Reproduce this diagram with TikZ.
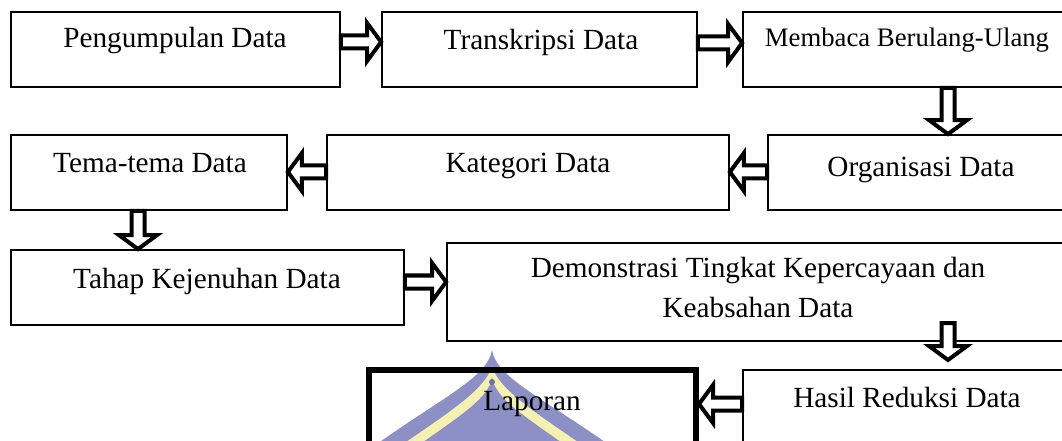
\documentclass[tikz,border=0pt]{standalone}
\usepackage{fontspec}
\setmainfont{Liberation Serif}
\usetikzlibrary{calc,fit}

\definecolor{roofblue}{RGB}{140,144,196}
\definecolor{roofyellow}{RGB}{245,240,180}

\begin{document}
\begin{tikzpicture}[x=0.25mm, y=-0.25mm,
  box/.style={draw, line width=0.45mm, inner sep=0pt},
  txt/.style={anchor=base, inner sep=0pt, font=\fontsize{20.8}{25}\selectfont},
  blk/.style={draw, fill=white, line width=1mm, line join=miter,
    to path={($(\tikztostart)!1.625mm!90:(\tikztotarget)$)
      -- ($(\tikztotarget)!3.5mm!(\tikztostart)!1.625mm!-90:(\tikztostart)$)
      -- ($(\tikztotarget)!3.5mm!(\tikztostart)!4.75mm!-90:(\tikztostart)$)
      -- (\tikztotarget)
      -- ($(\tikztotarget)!3.5mm!(\tikztostart)!4.75mm!90:(\tikztostart)$)
      -- ($(\tikztotarget)!3.5mm!(\tikztostart)!1.625mm!90:(\tikztostart)$)
      -- ($(\tikztostart)!1.625mm!-90:(\tikztotarget)$) -- cycle}}]
\clip (0,0) rectangle (1062,441);

% watermark behind Laporan
\fill[roofblue] (492,350) .. controls (487,380) and (435,400) .. (355,460) -- (630,460) .. controls (549,400) and (497,380) .. (492,350) -- cycle;
\fill[roofyellow] (492,366) .. controls (485,392) and (440,418) .. (380,460) -- (398,460) .. controls (452,420) and (490,400) .. (492,376) .. controls (494,400) and (532,420) .. (586,460) -- (604,460) .. controls (544,418) and (499,392) .. (492,366) -- cycle;
\fill[roofblue!80!black] (492,382) circle (3);

% boxes
\node[box, fit={(11,12) (340,87)}] (b1) {};
\node[box, fit={(382,12) (697,87)}] (b2) {};
\node[box, fit={(743,12) (1080,87)}] (b3) {};
\node[box, fit={(768,135) (1080,210)}] (b4) {};
\node[box, fit={(327,135) (729,210)}] (b5) {};
\node[box, fit={(11,135) (287,210)}] (b6) {};
\node[box, fit={(11,250) (404,325)}] (b7) {};
\node[box, fit={(447,243) (1080,341)}] (b8) {};
\node[box, fit={(743,370) (1080,470)}] (b9) {};
\node[box, line width=1.5mm, fit={(369,370) (696,470)}] (b10) {};

% texts
\node[txt] (t1) at (175,48) {Pengumpulan Data};
\node[txt] (t2) at (541,50) {Transkripsi Data};
\node[txt, font=\fontsize{19}{23}\selectfont] (t3) at (907,47) {Membaca Berulang-Ulang};
\node[txt] (t4) at (921,177) {Organisasi Data};
\node[txt] (t5) at (528,173) {Kategori Data};
\node[txt] (t6) at (150,173) {Tema-tema Data};
\node[txt] (t7) at (207,288) {Tahap Kejenuhan Data};
\node[txt] (t8) at (758,277) {Demonstrasi Tingkat Kepercayaan dan};
\node[txt] (t9) at (758,317) {Keabsahan Data};
\node[txt] (t10) at (907,407) {Hasil Reduksi Data};
\node[txt] (t11) at (532,410) {Laporan};

% arrows
\coordinate (c1) at (948,323);
\coordinate (c2) at (948,360);
\draw[blk] (b1.east |- 0,42) to (b2.west |- 0,42);
\draw[blk] (b2.east |- 0,43) to (b3.west |- 0,43);
\draw[blk] (948,0 |- b3.south) to (948,0 |- b4.north);
\draw[blk] (b4.west |- 0,172) to (b5.east |- 0,172);
\draw[blk] (b5.west |- 0,172) to (b6.east |- 0,172);
\draw[blk] (138,0 |- b6.south) to (138,0 |- b7.north);
\draw[blk] (b7.east |- 0,282) to (b8.west |- 0,282);
\draw[blk] (c1) to (c2);
\draw[blk] (b9.west |- 0,404) to (b10.east |- 0,404);
\end{tikzpicture}
\end{document}
